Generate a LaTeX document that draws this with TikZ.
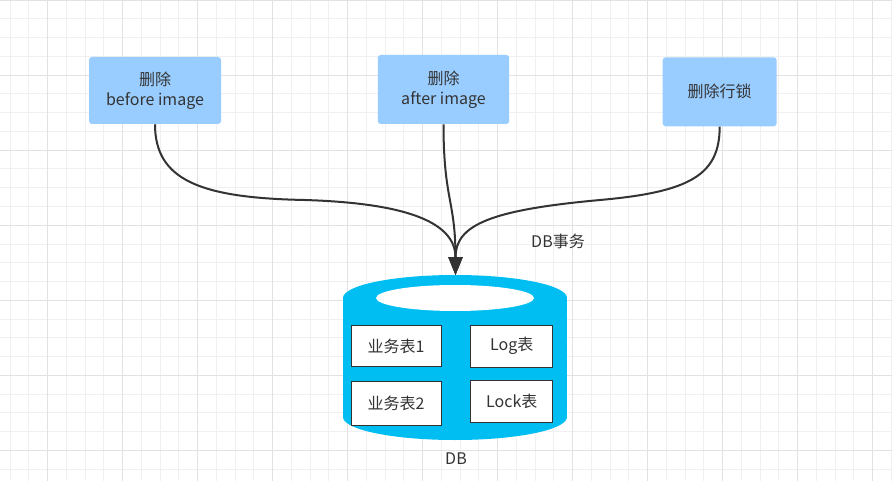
\documentclass[tikz,border=0pt]{standalone}
\usepackage{fontspec}
\setmainfont{Noto Sans CJK SC}
\usetikzlibrary{arrows.meta}
\definecolor{boxblue}{HTML}{99CCFF}
\definecolor{dbblue}{HTML}{00BEF2}
\definecolor{ink}{HTML}{333333}
\definecolor{gridminor}{HTML}{F0F0F0}
\definecolor{gridmajor}{HTML}{E2E2E2}
\begin{document}
\begin{tikzpicture}[x=0.75pt,y=-0.75pt]
	\tikzstyle{op} = [fill=boxblue, rounded corners=2.25pt, text=ink, align=center, inner sep=0pt, font=\fontsize{12pt}{15pt}\selectfont];
	\tikzstyle{tbl} = [draw=ink, fill=white, line width=0.75pt, text=ink, inner sep=0pt, font=\fontsize{12pt}{14pt}\selectfont];
	\tikzstyle{plain} = [draw=none, fill=none, text=ink, font=\fontsize{12pt}{14pt}\selectfont];
	\tikzstyle{link} = [draw=ink, line width=1.5pt, -{Triangle[length=13.5pt,width=10.5pt]}];
	\useasboundingbox (0,0) rectangle (892,481);
	% background grid
	\fill[white] (0,0) rectangle (892,481);
	\foreach \k in {0,...,47}
		\draw[gridminor, line width=0.75pt] (10+18.75*\k,0) -- (10+18.75*\k,481);
	\foreach \k in {0,...,25}
		\draw[gridminor, line width=0.75pt] (0,0.25+18.75*\k) -- (892,0.25+18.75*\k);
	\foreach \k in {0,...,11}
		\draw[gridmajor, line width=0.75pt] (47.5+75*\k,0) -- (47.5+75*\k,481);
	\foreach \k in {0,...,6}
		\draw[gridmajor, line width=0.75pt] (0,0.5+75*\k) -- (892,0.5+75*\k);
	% operations
	\node[op, minimum width=99pt, minimum height=50.25pt] (delbefore) at (155,90.5) {删除\\before image};
	\node[op, minimum width=98.6pt, minimum height=51.75pt] (delafter) at (443.5,89.5) {删除\\after image};
	\node[op, minimum width=85.5pt, minimum height=51.75pt] (dellock) at (719.7,91.8) {删除行锁};
	% database
	\fill[dbblue] (455,417) ellipse [x radius=112, y radius=23];
	\fill[dbblue] (343,298) rectangle (567,417);
	\fill[dbblue] (455,298) ellipse [x radius=112, y radius=23];
	\fill[white] (455,298) ellipse [x radius=79, y radius=13];
	\coordinate (dbtop) at (455.5,275);
	\foreach \name/\x/\y/\w/\h/\txt in {biz1/396/346.2/67.5pt/30.75pt/业务表1, logt/511.8/346.2/61.5pt/31.5pt/Log表, biz2/396/403/67.5pt/33pt/业务表2, lockt/511.8/401.5/61.5pt/31.5pt/Lock表}
	{
		\node[tbl, minimum width=\w, minimum height=\h] (\name) at (\x,\y) {\txt};
	}
	\node[plain] (db) at (456,459) {DB};
	\node[plain] (tx) at (558,241) {DB事务};
	% connectors
	\draw[link] (delbefore.south) .. controls (155,180) and (200,198) .. (305,200) .. controls (400,203) and (455.5,220) .. (dbtop);
	\draw[link] (delafter.south) .. controls (443.5,200) and (455.5,200) .. (dbtop);
	\draw[link] (dellock.south) .. controls (719.7,175) and (690,192) .. (600,200) .. controls (490,210) and (455.5,225) .. (dbtop);
\end{tikzpicture}
\end{document}
